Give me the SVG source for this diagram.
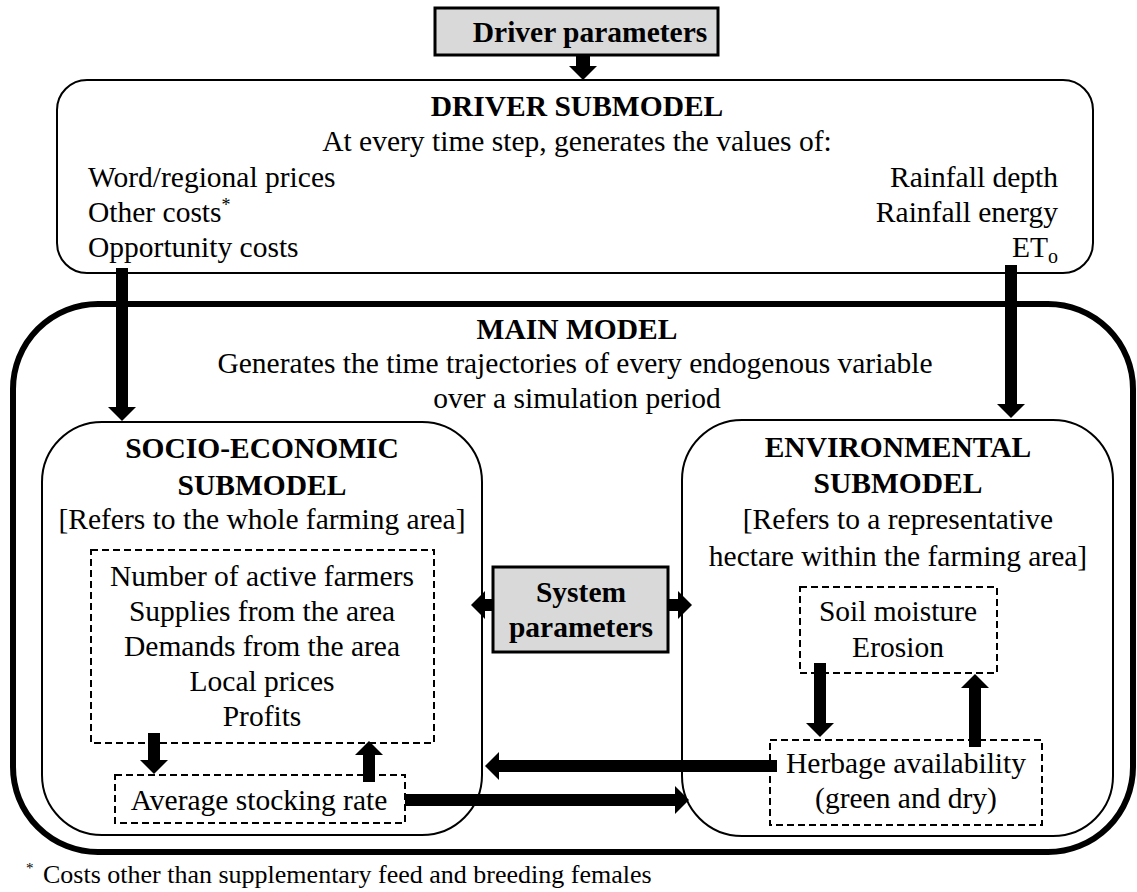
<svg xmlns="http://www.w3.org/2000/svg" width="1137" height="892" viewBox="0 0 1137 892">
<defs>
<marker id="ah" markerUnits="userSpaceOnUse" markerWidth="14" markerHeight="28" refX="1" refY="14" orient="auto"><path d="M0,0 L14,14 L0,28 z" fill="#000"/></marker>
</defs>
<style>
text{font-family:'Liberation Serif',Tinos,'Times New Roman',Times,'Noto Serif','FreeSerif','DejaVu Serif',serif;font-size:29.5px;fill:#000}
.b{font-weight:bold}
.c{text-anchor:middle}
.r{text-anchor:end}
.fn{font-size:26px}
.box{fill:none;stroke:#000;stroke-width:2}
.dash{fill:none;stroke:#000;stroke-width:2;stroke-dasharray:7 4}
.gray{fill:#d9d9d9;stroke:#000;stroke-width:3}
.arr{stroke:#000;stroke-width:12;fill:none;marker-end:url(#ah)}
</style>
<rect width="1137" height="892" fill="#fff"/>
<g id="driver-parameters">
<rect class="gray" x="435" y="8" width="283" height="47"/>
<text class="b c" x="590" y="42">Driver parameters</text>
</g>
<g id="driver-submodel">
<rect class="box" x="57" y="80" width="1036" height="193" rx="30"/>
<text class="b c" x="577" y="116">DRIVER SUBMODEL</text>
<text class="c" x="577" y="151">At every time step, generates the values of:</text>
<text x="88" y="187">Word/regional prices</text>
<text x="88" y="222">Other costs<tspan font-size="18" dy="-11">*</tspan></text>
<text x="88" y="257">Opportunity costs</text>
<text class="r" x="1058" y="187">Rainfall depth</text>
<text class="r" x="1058" y="222">Rainfall energy</text>
<text class="r" x="1058" y="257">ET<tspan font-size="20" dy="6">o</tspan></text>
</g>
<g id="main-model">
<rect x="13" y="304" width="1120" height="548" rx="85" fill="none" stroke="#000" stroke-width="6"/>
<text class="b c" x="577" y="339">MAIN MODEL</text>
<text class="c" x="575" y="373">Generates the time trajectories of every endogenous variable</text>
<text class="c" x="577" y="408">over a simulation period</text>
</g>
<g id="socio-economic-submodel">
<rect class="box" x="42" y="422" width="440" height="413" rx="60"/>
<text class="b c" x="262" y="458">SOCIO-ECONOMIC</text>
<text class="b c" x="262" y="495">SUBMODEL</text>
<text class="c" x="262" y="529">[Refers to the whole farming area]</text>
</g>
<g id="socio-variables">
<rect class="dash" x="91" y="550" width="343" height="193"/>
<text class="c" x="262" y="586">Number of active farmers</text>
<text class="c" x="262" y="621">Supplies from the area</text>
<text class="c" x="262" y="656">Demands from the area</text>
<text class="c" x="262" y="691">Local prices</text>
<text class="c" x="262" y="726">Profits</text>
</g>
<g id="average-stocking-rate">
<rect class="dash" x="115" y="775" width="290" height="48"/>
<text class="c" x="259" y="810">Average stocking rate</text>
</g>
<g id="environmental-submodel">
<rect class="box" x="682" y="420" width="431" height="416" rx="60"/>
<text class="b c" x="898" y="457">ENVIRONMENTAL</text>
<text class="b c" x="898" y="493">SUBMODEL</text>
<text class="c" x="898" y="529">[Refers to a representative</text>
<text class="c" x="898" y="566">hectare within the farming area]</text>
</g>
<g id="soil-erosion">
<rect class="dash" x="800" y="587" width="197" height="86"/>
<text class="c" x="898" y="621">Soil moisture</text>
<text class="c" x="898" y="657">Erosion</text>
</g>
<g id="herbage-availability">
<rect class="dash" x="770" y="740" width="272" height="85"/>
<text class="c" x="906" y="773">Herbage availability</text>
<text class="c" x="906" y="808">(green and dry)</text>
</g>
<g id="system-parameters">
<rect class="gray" x="493" y="567" width="175" height="85"/>
<text class="b c" x="581" y="602">System</text>
<text class="b c" x="581" y="637">parameters</text>
</g>
<g id="connectors">
<line class="arr" x1="583" y1="55" x2="583" y2="67" style="stroke-width:14"/>
<line class="arr" x1="122" y1="268" x2="122" y2="408"/>
<line class="arr" x1="1011" y1="265" x2="1011" y2="405"/>
<line class="arr" x1="494" y1="605" x2="484" y2="605"/>
<line class="arr" x1="667" y1="605" x2="679" y2="605"/>
<line class="arr" x1="154" y1="733" x2="154" y2="761"/>
<line class="arr" x1="369" y1="782" x2="369" y2="754"/>
<line class="arr" x1="405" y1="800" x2="676" y2="800"/>
<line class="arr" x1="777" y1="766" x2="498" y2="766"/>
<line class="arr" x1="820" y1="663" x2="820" y2="724"/>
<line class="arr" x1="975" y1="747" x2="975" y2="687"/>
</g>
<g id="footnote">
<text class="fn" x="43" y="883"><tspan x="26" dy="-10" font-size="15">*</tspan><tspan x="43" dy="10">Costs other than supplementary feed and breeding females</tspan></text>
</g>
</svg>
